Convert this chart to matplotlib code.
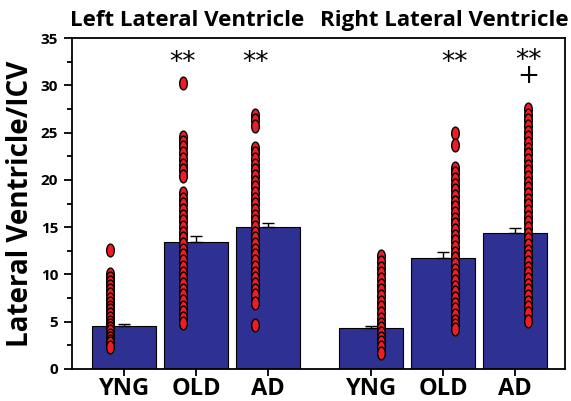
import numpy as np
import matplotlib
matplotlib.use("Agg")
import matplotlib.pyplot as plt
from matplotlib.path import Path
from matplotlib.transforms import Affine2D

plt.rcParams['font.family'] = ['Open Sans', 'DejaVu Sans']
plt.rcParams['font.weight'] = 'bold'

# group labels and bar values (mean +/- sem)
groups = ["YNG", "OLD", "AD", "YNG", "OLD", "AD"]
means = [4.5, 13.4, 15.0, 4.3, 11.7, 14.4]
sems = [0.2, 0.7, 0.4, 0.2, 0.7, 0.5]

# individual subjects
left_yng = [12.6, 10.0, 9.6, 9.2, 8.8, 8.3, 7.9, 7.4, 7.0, 6.6, 6.2, 5.8, 5.4,
            5.0, 4.6, 4.3, 4.0, 3.6, 3.3, 3.0, 2.7, 2.3]
left_old = [30.2, 24.5, 24.0, 23.5, 22.8, 22.2, 21.6, 21.0, 20.4, 18.6, 18.0,
            17.4, 16.8, 16.2, 15.6, 15.0, 14.4, 13.8, 13.2, 12.6, 12.0, 11.4,
            10.8, 10.2, 9.6, 9.0, 8.4, 7.8, 7.2, 6.6, 6.0, 5.4, 4.9]
left_ad = [26.9, 26.3, 25.7, 23.4, 22.8, 22.2, 21.6, 21.0, 20.4, 19.8, 19.2,
           18.6, 18.0, 17.4, 16.8, 16.2, 15.6, 15.0, 14.4, 13.8, 13.2, 12.6,
           12.0, 11.4, 10.8, 10.2, 9.6, 9.0, 8.4, 7.8, 7.0, 4.6]
right_yng = [11.9, 11.3, 10.7, 10.1, 9.5, 8.9, 8.3, 7.7, 7.1, 6.5, 5.9, 5.3,
             4.8, 4.3, 3.8, 3.3, 2.8, 2.3, 1.7]
right_old = [25.0, 23.7, 21.3, 20.7, 20.1, 19.5, 18.9, 18.3, 17.7, 17.1, 16.5,
             15.9, 15.3, 14.7, 14.1, 13.5, 12.9, 12.3, 11.7, 11.1, 10.5, 9.9,
             9.3, 8.7, 8.1, 7.5, 6.9, 6.3, 5.7, 5.1, 4.6, 4.2]
right_ad = [27.5, 26.9, 26.3, 25.7, 25.1, 24.5, 23.9, 23.3, 22.7, 22.1, 21.5,
            20.9, 20.3, 19.7, 19.1, 18.5, 17.9, 17.3, 16.7, 16.1, 15.5, 14.9,
            14.3, 13.7, 13.1, 12.5, 11.9, 11.3, 10.7, 10.1, 9.5, 8.9, 8.3, 7.7,
            7.1, 6.5, 5.9, 5.1]
points = [left_yng, left_old, left_ad, right_yng, right_old, right_ad]

# significance marks (vs YNG: **, vs OLD: +)
sig = ["", "**", "**", "", "**", "**\n+"]

pos = [0, 1, 2, 3.43, 4.43, 5.43]
offs = [-0.2, -0.19, -0.18, 0.14, 0.16, 0.18]

ellipse = Path.unit_circle().transformed(Affine2D().scale(0.6, 1.0))

fig = plt.figure(figsize=(5.71, 4.01), dpi=100)
ax = fig.add_axes([0.126, 0.080, 0.863, 0.825])

ax.bar(pos, means, width=0.89, color='#2E3192', edgecolor='black',
       linewidth=0.8, zorder=2)
ax.errorbar(pos, means, yerr=[np.zeros(len(sems)), sems], fmt='none',
            ecolor='black', elinewidth=1.0, capsize=4, capthick=1.0, zorder=2.5)

for p, o, vals in zip(pos, offs, points):
    ax.plot(np.full(len(vals), p + o), vals, linestyle='none', marker=ellipse,
            markersize=9.2, markerfacecolor='#EE1C25', markeredgecolor='black',
            markeredgewidth=1.0, zorder=3)

for p, o, s in zip(pos, offs, sig):
    if not s:
        continue
    if "\n" in s:
        ax.text(p + o, 30.3, s, ha='center', va='baseline', fontsize=19,
                fontweight='normal', family='DejaVu Sans', linespacing=0.45,
                multialignment='center')
    else:
        ax.text(p + o, 32.4, s, ha='center', va='center', fontsize=19,
                fontweight='normal', family='DejaVu Sans')

ax.set_xlim(-0.73, 6.12)
ax.set_ylim(0, 35)
ax.set_xticks(pos)
ax.set_xticklabels(groups, fontsize=17, fontweight='bold')
ax.set_yticks(range(0, 36, 5))
ax.set_yticks(np.arange(2.5, 35, 5), minor=True)
ax.tick_params(axis='y', which='major', direction='out', length=6, width=1.3,
               labelsize=11, pad=4)
ax.tick_params(axis='y', which='minor', direction='out', length=3.5, width=1.3)
ax.tick_params(axis='x', direction='out', length=5, width=1.3, pad=1)
for sp in ax.spines.values():
    sp.set_linewidth(1.3)
ax.set_ylabel("Lateral Ventricle/ICV", fontsize=20, fontweight='bold',
              labelpad=4)

fig.text(0.328, 0.95, "Left Lateral Ventricle", ha='center', va='center',
         fontsize=16, fontweight='bold')
fig.text(0.778, 0.95, "Right Lateral Ventricle", ha='center', va='center',
         fontsize=16, fontweight='bold')

fig.savefig("out.png", dpi=100)
